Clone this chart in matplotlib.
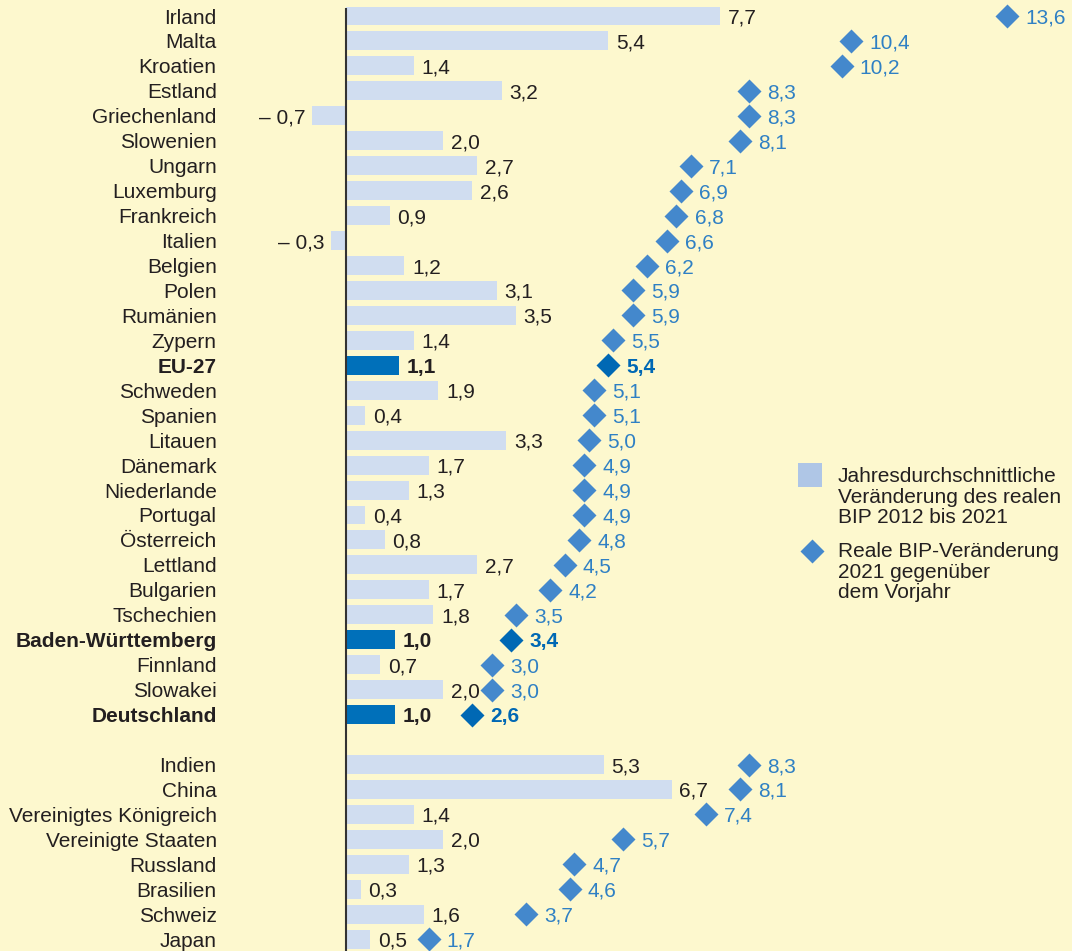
import matplotlib
matplotlib.use("Agg")
import matplotlib.pyplot as plt

countries_eu = ["Irland", "Malta", "Kroatien", "Estland", "Griechenland", "Slowenien", "Ungarn",
                "Luxemburg", "Frankreich", "Italien", "Belgien", "Polen", "Rumänien", "Zypern",
                "EU-27", "Schweden", "Spanien", "Litauen", "Dänemark", "Niederlande", "Portugal",
                "Österreich", "Lettland", "Bulgarien", "Tschechien", "Baden-Württemberg",
                "Finnland", "Slowakei", "Deutschland"]
avg_eu = [7.7, 5.4, 1.4, 3.2, -0.7, 2.0, 2.7, 2.6, 0.9, -0.3, 1.2, 3.1, 3.5, 1.4,
          1.1, 1.9, 0.4, 3.3, 1.7, 1.3, 0.4, 0.8, 2.7, 1.7, 1.8, 1.0, 0.7, 2.0, 1.0]
chg_eu = [13.6, 10.4, 10.2, 8.3, 8.3, 8.1, 7.1, 6.9, 6.8, 6.6, 6.2, 5.9, 5.9, 5.5,
          5.4, 5.1, 5.1, 5.0, 4.9, 4.9, 4.9, 4.8, 4.5, 4.2, 3.5, 3.4, 3.0, 3.0, 2.6]

countries_world = ["Indien", "China", "Vereinigtes Königreich", "Vereinigte Staaten",
                   "Russland", "Brasilien", "Schweiz", "Japan"]
avg_world = [5.3, 6.7, 1.4, 2.0, 1.3, 0.3, 1.6, 0.5]
chg_world = [8.3, 8.1, 7.4, 5.7, 4.7, 4.6, 3.7, 1.7]

highlight = ["EU-27", "Baden-Württemberg", "Deutschland"]

legend_bar = "Jahresdurchschnittliche\nVeränderung des realen\nBIP 2012 bis 2021"
legend_dia = "Reale BIP-Veränderung\n2021 gegenüber\ndem Vorjahr"

BG = "#FDF8CE"
BAR = "#D0DDF0"
BAR_HI = "#0070BA"
DIA = "#4488CC"
DIA_HI = "#0068B4"
DIA_TXT = "#2F80C4"
TXT = "#231F20"
LEG_BAR = "#AFC6E6"

plt.rcParams["font.family"] = ["Liberation Sans", "DejaVu Sans"]
FS = 15
MS = 12

W, H = 1072, 951
fig = plt.figure(figsize=(W / 100, H / 100), dpi=100, facecolor=BG)
ax = fig.add_axes([0, 0, 1, 1])
ax.set_facecolor(BG)
ax.axis("off")

x0_px, px_per_unit = 346, 48.6
row0_px, px_per_row = 16, 24.95
ax.set_xlim(-x0_px / px_per_unit, (W - x0_px) / px_per_unit)
ax.set_ylim((H - row0_px) / px_per_row, -row0_px / px_per_row)

names = countries_eu + countries_world
avgs = avg_eu + avg_world
chgs = chg_eu + chg_world
rows = list(range(len(countries_eu))) + [len(countries_eu) + 1 + i for i in range(len(countries_world))]


def fmt(v):
    s = f"{abs(v):.1f}".replace(".", ",")
    return ("\u2013 " + s) if v < 0 else s


for name, a, c, r in zip(names, avgs, chgs, rows):
    hi = name in highlight
    ax.barh(r, a, height=0.76, color=BAR_HI if hi else BAR, zorder=2)
    ax.text(-2.66, r, name, ha="right", va="center_baseline", fontsize=FS,
            color=TXT, fontweight="bold" if hi else "normal")
    if a >= 0:
        ax.annotate(fmt(a), (a, r), xytext=(5.5, 0), textcoords="offset points",
                    ha="left", va="center_baseline", fontsize=FS, color=TXT,
                    fontweight="bold" if hi else "normal")
    else:
        ax.annotate(fmt(a), (a, r), xytext=(-5, 0), textcoords="offset points",
                    ha="right", va="center_baseline", fontsize=FS, color=TXT)
    ax.plot(c, r, marker="D", ms=MS, color=DIA_HI if hi else DIA, mec="none", zorder=3)
    ax.annotate(fmt(c), (c, r), xytext=(13, 0), textcoords="offset points",
                ha="left", va="center_baseline", fontsize=FS,
                color=DIA_HI if hi else DIA_TXT, fontweight="bold" if hi else "normal")

ax.plot([0, 0], [-0.33, rows[-1] + 1.0], color="#333333", lw=1.5, zorder=4, solid_capstyle="butt")

# legend
def px2data(xp, yp):
    return ((xp - x0_px) / px_per_unit, (yp - row0_px) / px_per_row)

lx, ly = px2data(798, 487)
lx2, ly2 = px2data(822, 463)
ax.add_patch(plt.Rectangle((lx, ly2), lx2 - lx, ly - ly2, color=LEG_BAR, lw=0))
tx, ty = px2data(838, 467)
ax.text(tx, ty, legend_bar, ha="left", va="top", fontsize=FS, color=TXT, linespacing=1.1)
dx, dy = px2data(812, 551)
ax.plot(dx, dy, marker="D", ms=MS, color=DIA, mec="none")
tx, ty = px2data(838, 542)
ax.text(tx, ty, legend_dia, ha="left", va="top", fontsize=FS, color=TXT, linespacing=1.1)

fig.savefig("out.png", dpi=100, facecolor=BG)
